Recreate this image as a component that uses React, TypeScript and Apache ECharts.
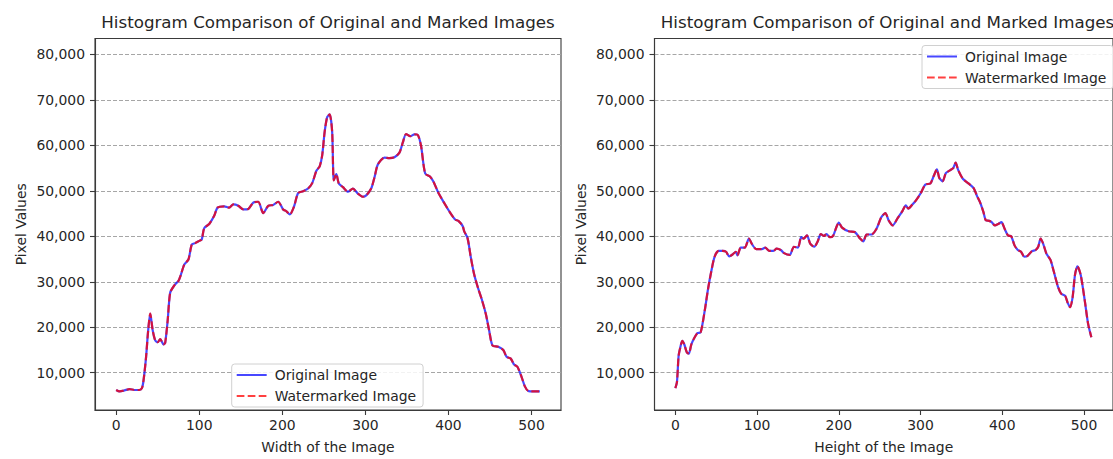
import { useEffect, useRef } from "react";
import * as echarts from "echarts";

// Column-wise histogram (pixel sums along the image width)
const widthPos = [
  0, 4, 10, 16, 22, 28, 31, 33, 36, 38.5, 41, 44, 47, 50, 53, 57, 59, 62, 65, 70,
  75, 78, 82, 87, 91, 95, 100, 103, 106, 112, 118, 122, 130, 136, 141, 147, 153, 159, 165, 171,
  177, 183, 189, 195, 201, 205, 209, 214, 219, 225, 231, 236, 241, 245, 248, 251, 254, 257, 260, 262,
  265, 268, 273, 279, 285, 291, 297, 301, 307, 311, 315, 323, 329, 335, 341, 345, 349, 354, 359, 363,
  367, 372, 378, 382, 388, 395, 402, 408, 412, 417, 419, 423, 427, 431, 436, 440, 445, 449, 453, 460,
  466, 470, 475, 479, 483, 488, 492, 496, 503, 510,
];
const widthCounts = [
  6200, 5900, 6100, 6400, 6200, 6200, 6600, 8400, 13500, 19300, 23000, 19300, 17100, 16700, 17400, 16200, 16600, 21500, 27600, 29200,
  30200, 31600, 33800, 34900, 38200, 38500, 39000, 39300, 41800, 42700, 44500, 46300, 46600, 46300, 47000, 46700, 45900, 46000, 47400, 47600,
  45100, 46700, 46900, 47600, 45900, 45500, 44800, 46500, 49500, 49900, 50500, 51700, 54400, 55400, 57800, 63000, 66200, 66800, 63000, 52300,
  53700, 51600, 50800, 49800, 50500, 49400, 48700, 49000, 50500, 53000, 55800, 57300, 57200, 57400, 58400, 60600, 62500, 62000, 62400, 62300,
  59900, 53800, 53100, 52000, 49500, 47300, 45200, 43700, 43400, 42300, 41100, 39600, 35300, 31600, 28400, 26200, 22900, 19300, 16000, 15700,
  15000, 13500, 13100, 11800, 11300, 9100, 7000, 6000, 5900, 5900,
];

// Row-wise histogram (pixel sums along the image height)
const heightPos = [
  0, 2, 4, 6, 8.5, 11, 14, 16.5, 19.5, 23, 27, 31, 36, 40, 44, 48, 53, 58, 62, 66,
  70, 74, 76, 80, 85, 90, 94, 99, 106, 110, 115, 120, 124, 129, 133, 140, 145, 150, 154, 157,
  161, 165, 170, 174, 178, 182, 185, 189, 193, 197, 200, 204, 212, 220, 226, 230, 234, 240, 246, 252,
  257, 261, 266, 272, 278, 282, 285, 290, 294, 300, 306, 312, 316, 320, 323, 327, 331, 336, 340, 343,
  346, 352, 359, 365, 369, 373, 377, 380, 384, 387, 391, 395, 399, 403, 407, 411, 415, 419, 423, 427,
  431, 436, 441, 444, 447, 450, 454, 459, 463, 468, 472, 477, 480, 483, 486, 489, 492, 496, 501, 505,
  509,
];
const heightCounts = [
  6600, 8000, 13700, 15500, 17000, 16200, 14500, 14200, 16200, 17600, 18700, 18900, 23700, 28400, 32300, 35500, 36800, 36800, 36600, 35600,
  36000, 36600, 35800, 37500, 37500, 39500, 38200, 37200, 37200, 37500, 36800, 36800, 37300, 37000, 36300, 35900, 37700, 37500, 39800, 39500,
  40200, 38400, 37700, 38800, 40500, 40100, 40500, 39800, 40100, 42000, 43000, 41900, 41100, 40900, 39500, 38900, 40400, 40400, 41600, 44200,
  45100, 43500, 42400, 44000, 45600, 46800, 46100, 47000, 47800, 49400, 51400, 51600, 53200, 54700, 52800, 52100, 53900, 54500, 55000, 56200,
  54600, 52600, 51600, 50600, 48900, 47400, 45300, 43500, 43400, 43100, 42400, 42700, 43100, 41600, 40200, 40000, 38000, 37000, 36600, 35500,
  35700, 36700, 37000, 37700, 39500, 38400, 36200, 34800, 32300, 29000, 27400, 26900, 25400, 24400, 26500, 31500, 33400, 31500, 25800, 20800,
  17800,
];

const xTicks = [0, 100, 200, 300, 400, 500];
const yTicks = [10000, 20000, 30000, 40000, 50000, 60000, 70000, 80000];

const TITLE = "Histogram Comparison of Original and Marked Images";
const FONT = '"DejaVu Sans", "Liberation Sans", sans-serif';
const INK = "#262626";
const SPINE = "#3a3a3a";
const BLUE = "rgba(0, 0, 255, 0.72)";
const RED = "rgba(255, 0, 0, 0.75)";

const toPairs = (xs: number[], ys: number[]) => xs.map((x, i) => [x, ys[i]]);

const GRID_TOP = 38.5;
const GRID_H = 379;
const GRID_W = 466;
const GRID_LEFTS = [95, 654.5];

function xAxisFor(idx: number, name: string) {
  return {
    type: "value",
    gridIndex: idx,
    min: -25.5,
    max: 535.5,
    name,
    nameLocation: "middle",
    nameGap: 30,
    nameTextStyle: { color: INK, fontFamily: FONT, fontSize: 13.9 },
    axisLine: { show: true, onZero: false, lineStyle: { color: SPINE, width: 1.1 } },
    axisTick: { show: true, length: 5, lineStyle: { color: SPINE, width: 1.1 }, customValues: xTicks },
    axisLabel: { color: INK, fontFamily: FONT, fontSize: 13.9, margin: 8, customValues: xTicks },
    splitLine: { show: false },
  };
}

function yAxisFor(idx: number) {
  return {
    type: "value",
    gridIndex: idx,
    min: 1800,
    max: 83500,
    name: "Pixel Values",
    nameLocation: "middle",
    nameRotate: 90,
    nameGap: 67,
    nameTextStyle: { color: INK, fontFamily: FONT, fontSize: 13.9 },
    axisLine: { show: true, onZero: false, lineStyle: { color: SPINE, width: 1.1 } },
    axisTick: { show: true, length: 5, lineStyle: { color: SPINE, width: 1.1 }, customValues: yTicks },
    axisLabel: {
      color: INK,
      fontFamily: FONT,
      fontSize: 13.9,
      margin: 10,
      customValues: yTicks,
      formatter: (v: number) => v.toLocaleString("en-US"),
    },
    splitLine: { show: true, lineStyle: { color: "#a6a6a6", width: 1, type: [4, 2] } },
  };
}

function lineSeries(name: string, idx: number, xs: number[], ys: number[], color: string, dashed: boolean) {
  return {
    type: "line",
    name,
    xAxisIndex: idx,
    yAxisIndex: idx,
    data: toPairs(xs, ys),
    showSymbol: false,
    symbol: "none",
    smooth: 0.25,
    z: dashed ? 3 : 2,
    lineStyle: { color, width: 2.2, type: dashed ? [7.7, 3.3] : "solid" },
    itemStyle: { color },
    emphasis: { disabled: true },
  };
}

function legendAt(left: number, top: number) {
  return {
    orient: "vertical",
    left,
    top,
    data: ["Original Image", "Watermarked Image"],
    itemWidth: 30,
    itemHeight: 14,
    itemGap: 5,
    padding: [3, 7, 3, 4],
    backgroundColor: "rgba(255,255,255,0.85)",
    borderColor: "#d0d0d0",
    borderWidth: 1,
    borderRadius: 3,
    selectedMode: false,
    itemStyle: { opacity: 0 },
    textStyle: { color: INK, fontFamily: FONT, fontSize: 13.9, lineHeight: 16, padding: [0, 0, 0, 3] },
  };
}

const option = {
  animation: false,
  backgroundColor: "#ffffff",
  textStyle: { fontFamily: FONT },
  title: GRID_LEFTS.map((l) => ({
    text: TITLE,
    left: l + GRID_W / 2,
    top: 13,
    padding: 0,
    textAlign: "center",
    textStyle: { color: INK, fontFamily: FONT, fontSize: 16.7, fontWeight: "normal" },
  })),
  grid: GRID_LEFTS.map((l) => ({
    left: l,
    top: GRID_TOP,
    width: GRID_W,
    height: GRID_H,
    show: true,
    borderColor: SPINE,
    borderWidth: 1.1,
    backgroundColor: "transparent",
  })),
  xAxis: [xAxisFor(0, "Width of the Image"), xAxisFor(1, "Height of the Image")],
  yAxis: [yAxisFor(0), yAxisFor(1)],
  legend: [legendAt(231.7, 364), legendAt(922, 45.5)],
  series: [
    lineSeries("Original Image", 0, widthPos, widthCounts, BLUE, false),
    lineSeries("Watermarked Image", 0, widthPos, widthCounts, RED, true),
    lineSeries("Original Image", 1, heightPos, heightCounts, BLUE, false),
    lineSeries("Watermarked Image", 1, heightPos, heightCounts, RED, true),
  ],
};

export default function App() {
  const ref = useRef<HTMLDivElement>(null);
  useEffect(() => {
    if (!ref.current) return;
    const chart = echarts.init(ref.current, null, { renderer: "svg" });
    chart.setOption(option as any);
    return () => chart.dispose();
  }, []);
  return (
    <div
      ref={ref}
      style={{ position: "fixed", left: 0, top: 0, width: 1113, height: 459, background: "#fff" }}
    />
  );
}
